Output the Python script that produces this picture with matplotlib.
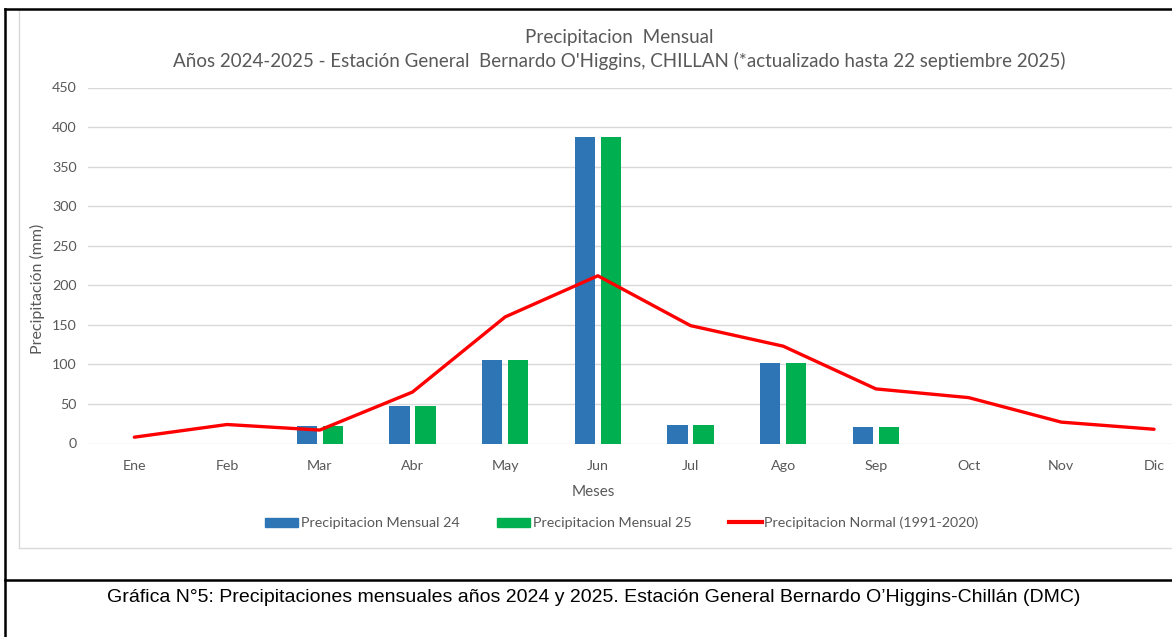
import numpy as np
import matplotlib
matplotlib.use('Agg')
import matplotlib.pyplot as plt
from matplotlib.patches import Patch
from matplotlib.lines import Line2D

meses = ['Ene', 'Feb', 'Mar', 'Abr', 'May', 'Jun', 'Jul', 'Ago', 'Sep', 'Oct', 'Nov', 'Dic']
pp_2024 = [0, 0, 22, 47, 105, 388, 23, 102, 21, 0, 0, 0]
pp_2025 = [0, 0, 22, 47, 105, 388, 23, 102, 21, 0, 0, 0]
pp_normal = [8, 24, 17, 65, 160, 212, 149, 123, 69, 58, 27, 18]
y_ticks = [0, 50, 100, 150, 200, 250, 300, 350, 400, 450]

plt.rcParams['font.family'] = ['Lato', 'DejaVu Sans']
txt = '#595959'
W, H = 1172, 637

fig = plt.figure(figsize=(W / 100, H / 100), dpi=100)

# axes: left edge 88px, 12 categories of ~92.7px (right side is cropped)
x0, x1 = 88, 88 + 12 * 92.7
ytop, ybot = 87.5, 443.5
ax = fig.add_axes([x0 / W, 1 - ybot / H, (x1 - x0) / W, (ybot - ytop) / H])

x = np.arange(len(meses))
bw = 0.22
ax.bar(x - 0.14, pp_2024, width=bw, color='#2E75B6', zorder=2)
ax.bar(x + 0.14, pp_2025, width=bw, color='#00B050', zorder=2)
ax.plot(x, pp_normal, color='#FF0000', lw=2.4, zorder=3, solid_capstyle='round')

ax.set_xlim(-0.5, 11.5)
ax.set_ylim(0, 450)
ax.set_yticks(y_ticks)
ax.set_xticks(x)
ax.set_xticklabels(meses)
ax.yaxis.grid(True, color='#D9D9D9', lw=1)
ax.set_axisbelow(True)
for s in ax.spines.values():
    s.set_visible(False)
ax.tick_params(length=0, labelsize=10.3, colors=txt, pad=8)
ax.tick_params(axis='x', pad=12)

# axis titles
fig.text(37 / W, 1 - 289 / H, 'Precipitación (mm)', rotation=90, ha='center', va='center',
         fontsize=11.5, color=txt)
fig.text(593 / W, 1 - 492 / H, 'Meses', ha='center', va='center', fontsize=11, color=txt)

# chart title
fig.text(619 / W, 1 - 37 / H, 'Precipitacion  Mensual', ha='center', va='center',
         fontsize=13.6, color=txt)
fig.text(619 / W, 1 - 61 / H,
         "Años 2024-2025 - Estación General  Bernardo O'Higgins, CHILLAN (*actualizado hasta 22 septiembre 2025)",
         ha='center', va='center', fontsize=13.5, color=txt)

handles = [Patch(color='#2E75B6'), Patch(color='#00B050'), Line2D([], [], color='#FF0000', lw=3)]
labels = ['Precipitacion Mensual 24', 'Precipitacion Mensual 25', 'Precipitacion Normal (1991-2020)']
fig.legend(handles, labels, loc='center', bbox_to_anchor=(622 / W, 1 - 523 / H), ncol=3,
           frameon=False, fontsize=10.3, labelcolor=txt, handlelength=2.3, handleheight=0.6,
           handletextpad=0.2, columnspacing=2.6)

# frame lines
def hline(y, xa, xb, **kw):
    fig.add_artist(Line2D([xa / W, xb / W], [1 - y / H, 1 - y / H], **kw))

def vline(xp, ya, yb, **kw):
    fig.add_artist(Line2D([xp / W, xp / W], [1 - ya / H, 1 - yb / H], **kw))

vline(19, 10, 548, color='#D9D9D9', lw=1)
hline(548, 19, W, color='#D9D9D9', lw=1)
hline(9, 5, W, color='black', lw=1.8)
hline(580, 5, W, color='black', lw=1.8)
vline(5, 9, H, color='black', lw=1.8)

fig.text(594 / W, 1 - 597 / H,
         'Gráfica N°5: Precipitaciones mensuales años 2024 y 2025. Estación General Bernardo O’Higgins-Chillán (DMC)',
         ha='center', va='center', fontsize=14, color='black',
         family=['Liberation Sans', 'DejaVu Sans'])

fig.savefig('out.png', dpi=100)
